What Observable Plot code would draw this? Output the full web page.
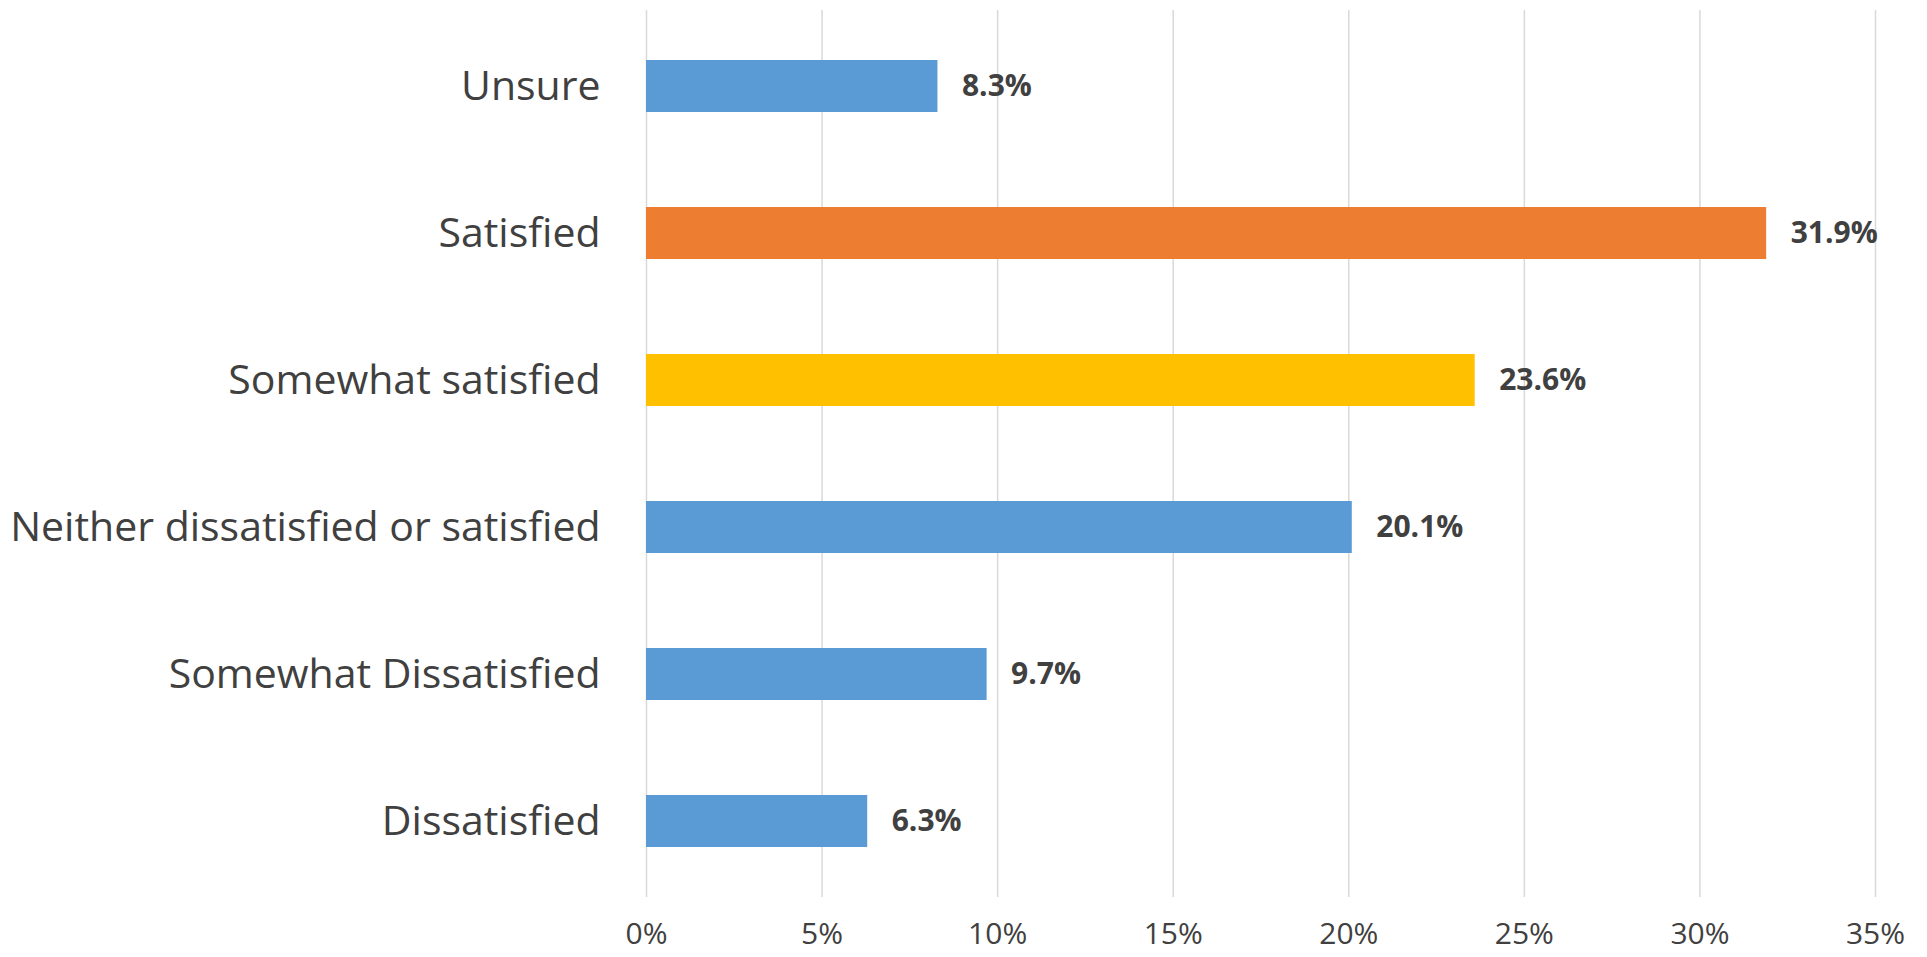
<!DOCTYPE html>
<html>
<head>
<meta charset="utf-8">
<script src="https://cdn.jsdelivr.net/npm/d3@7"></script>
<script src="https://cdn.jsdelivr.net/npm/@observablehq/plot@0.6"></script>
<style>
  html, body { margin: 0; padding: 0; background: #fff; }
  #chart svg { display: block; }
</style>
</head>
<body>
<div id="chart"></div>
<script>
const categories = [
  "Unsure",
  "Satisfied",
  "Somewhat satisfied",
  "Neither dissatisfied or satisfied",
  "Somewhat Dissatisfied",
  "Dissatisfied"
];
const values = [8.3, 31.9, 23.6, 20.1, 9.7, 6.3];
const barColors = ["#5B9BD5", "#ED7D31", "#FFC000", "#5B9BD5", "#5B9BD5", "#5B9BD5"];
const xTicks = [0, 5, 10, 15, 20, 25, 30, 35];

const data = categories.map((c, i) => ({category: c, value: values[i]}));

const font = "'Open Sans', 'DejaVu Sans', sans-serif";
const textColor = "#404040";

const chart = Plot.plot({
  width: 1927,
  height: 957,
  marginLeft: 646,
  marginRight: 52,
  marginTop: 10,
  marginBottom: 60,
  style: {fontFamily: font, color: textColor, background: "#fff"},
  x: {domain: [0, 35], ticks: xTicks, label: null},
  y: {domain: categories, paddingInner: 0.648, paddingOuter: 0.324, label: null},
  color: {domain: categories, range: barColors},
  marks: [
    Plot.gridX(xTicks, {stroke: "#D9D9D9", strokeOpacity: 1, strokeWidth: 1.5}),
    Plot.barX(data, {x: "value", y: "category", fill: "category"}),
    Plot.text(data, {
      x: "value", y: "category",
      text: d => d.value.toFixed(1) + "%",
      textAnchor: "start", dx: 24,
      fontSize: 30, fontWeight: "bold", fill: textColor
    }),
    Plot.axisX(xTicks, {
      tickSize: 0, tickPadding: 25, fontSize: 30, label: null,
      tickFormat: d => d + "%", fill: textColor
    }),
    Plot.axisY({tickSize: 0, tickPadding: 46, fontSize: 41, label: null, fill: textColor})
  ]
});

document.getElementById("chart").appendChild(chart);
</script>
</body>
</html>
